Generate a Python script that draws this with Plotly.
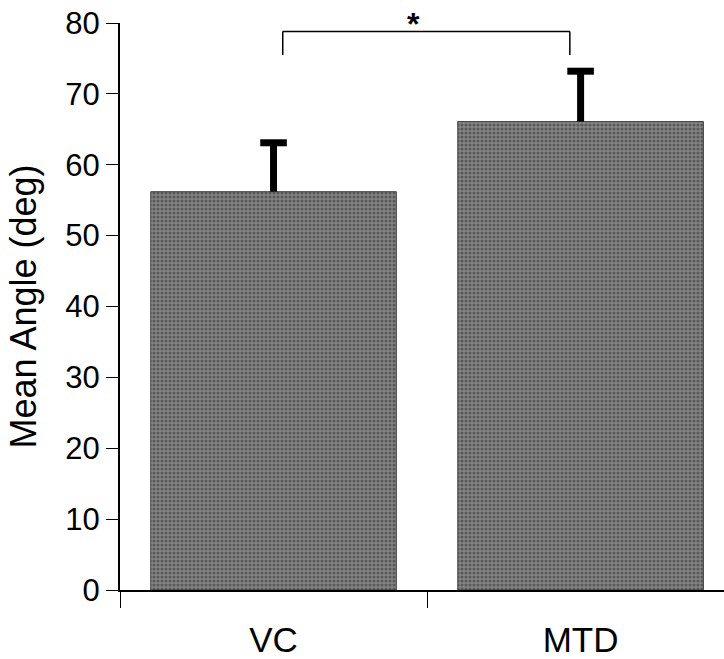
import plotly.graph_objects as go

categories = ["VC", "MTD"]
mean_angle = [56.2, 66.1]
sd_upper = [6.9, 7.1]
y_ticks = [0, 10, 20, 30, 40, 50, 60, 70, 80]

# significance bracket (data coordinates)
bracket_x = [0.03, 0.965]
bracket_top = 78.8
bracket_bottom = 75.5
star_x = 0.455
star_y = 79.8
y_max = 80

x_pos = list(range(len(categories)))

fig = go.Figure()
fig.add_trace(go.Bar(
    x=x_pos, y=mean_angle, width=0.8,
    marker=dict(
        color="#737373",
        line=dict(color="#444444", width=1),
        pattern=dict(shape=".", fgcolor="#2e2e2e", bgcolor="#858585", size=4, solidity=0.5),
    ),
    showlegend=False,
))

# one-sided error bars (stem + top cap only)
for i, (m, s) in enumerate(zip(mean_angle, sd_upper)):
    fig.add_trace(go.Scatter(
        x=[x_pos[i], x_pos[i]], y=[m, m + s], mode="lines",
        line=dict(color="black", width=7), showlegend=False, hoverinfo="skip",
    ))
    fig.add_trace(go.Scatter(
        x=[x_pos[i]], y=[m + s], mode="markers",
        marker=dict(symbol="line-ew", size=19, line=dict(color="black", width=7)),
        showlegend=False, hoverinfo="skip",
    ))

fig.add_shape(type="line", xref="x", yref="y",
              x0=bracket_x[0], x1=bracket_x[0], y0=bracket_bottom, y1=bracket_top,
              line=dict(color="black", width=1.5))
fig.add_shape(type="line", xref="x", yref="y",
              x0=bracket_x[0], x1=bracket_x[1], y0=bracket_top, y1=bracket_top,
              line=dict(color="black", width=1.5))
fig.add_shape(type="line", xref="x", yref="y",
              x0=bracket_x[1], x1=bracket_x[1], y0=bracket_bottom, y1=bracket_top,
              line=dict(color="black", width=1.5))
fig.add_annotation(x=star_x, y=star_y / y_max, xref="x", yref="paper", text="<b>*</b>",
                   showarrow=False, yanchor="middle",
                   font=dict(family="Liberation Sans", size=32, color="black"))

fig.update_layout(
    width=724, height=659,
    margin=dict(l=120, r=0, t=23, b=69, autoexpand=False),
    paper_bgcolor="white", plot_bgcolor="white",
    font=dict(family="Liberation Sans, Arial, sans-serif", color="black"),
    xaxis=dict(
        range=[-0.5, 1.467], tickvals=x_pos, ticktext=categories,
        ticks="", showgrid=False, zeroline=False,
        showline=True, linecolor="black", linewidth=2,
        tickfont=dict(size=35), ticklabelstandoff=18,
        minor=dict(ticks="outside", tick0=-0.5, dtick=1, ticklen=16,
                   tickcolor="black", tickwidth=1, showgrid=False),
        fixedrange=True,
    ),
    yaxis=dict(
        range=[0, y_max], tickvals=y_ticks, ticks="outside", ticklen=12,
        tickcolor="black", tickwidth=1,
        showgrid=False, zeroline=False,
        showline=True, linecolor="black", linewidth=2,
        tickfont=dict(size=31),
        title=dict(text="Mean Angle (deg)", font=dict(size=36), standoff=18),
        automargin=False,
    ),
)

fig.write_html("out.html")
